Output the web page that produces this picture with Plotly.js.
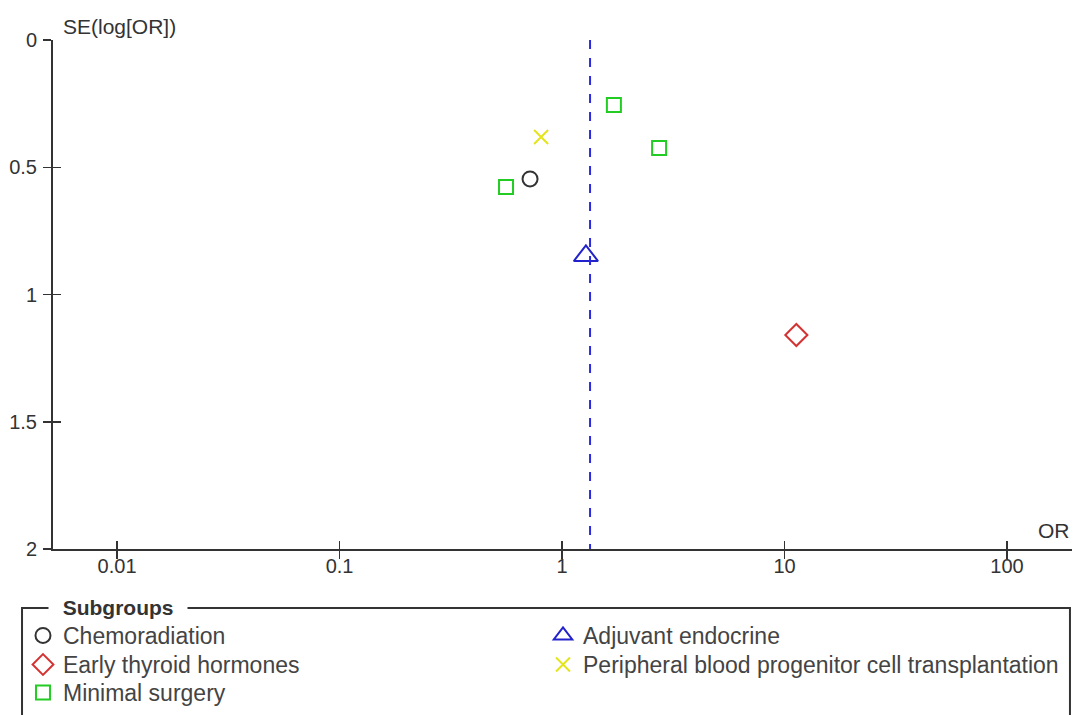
<!DOCTYPE html>
<html><head><meta charset="utf-8">
<script src="https://cdn.plot.ly/plotly-3.0.1.min.js"></script>
<style>html,body{margin:0;padding:0;background:#fff}#chart{width:1074px;height:715px}</style>
</head><body><div id="chart"></div>
<script>
// Data
const subgroupNames = ["Chemoradiation", "Adjuvant endocrine", "Early thyroid hormones", "Peripheral blood progenitor cell transplantation", "Minimal surgery"];
const chemoOR = [0.718];           const chemoSE = [0.546];
const endoOR = [1.28];             const endoSE = [0.848];
const thyroidOR = [11.3];          const thyroidSE = [1.159];
const pbpctOR = [0.805];           const pbpctSE = [0.381];
const surgeryOR = [1.71, 2.73, 0.56]; const surgerySE = [0.255, 0.424, 0.578];
const pooledOR = 1.336;
const seRange = [0, 2];
const xTickVals = [0.01, 0.1, 1, 10, 100];
const xTickText = ["0.01", "0.1", "1", "10", "100"];
const yTickVals = [0, 0.5, 1, 1.5, 2];
const yTickText = ["0", "0.5", "1", "1.5", "2"];

const FONT = "Liberation Sans, Arial, sans-serif";
const TXT = "#333";
const traces = [
  {x: chemoOR, y: chemoSE, name: subgroupNames[0], mode: "markers", type: "scatter", legend: "legend",
   marker: {symbol: "circle-open", size: 15, color: "#333333", line: {width: 2}}},
  {x: endoOR, y: endoSE, name: subgroupNames[1], mode: "markers", type: "scatter", legend: "legend2",
   marker: {symbol: "triangle-up-open", size: 21, color: "#2222cc", line: {width: 2}}},
  {x: thyroidOR, y: thyroidSE, name: subgroupNames[2], mode: "markers", type: "scatter", legend: "legend3",
   marker: {symbol: "diamond-open", size: 17, color: "#d43333", line: {width: 2}}},
  {x: pbpctOR, y: pbpctSE, name: subgroupNames[3], mode: "markers", type: "scatter", legend: "legend4",
   marker: {symbol: "x-thin-open", size: 14, color: "#e4e41c", line: {width: 2}}},
  {x: surgeryOR, y: surgerySE, name: subgroupNames[4], mode: "markers", type: "scatter", legend: "legend5",
   marker: {symbol: "square-open", size: 14, color: "#22cc22", line: {width: 2}}},
  {x: [pooledOR, pooledOR], y: seRange, mode: "lines", type: "scatter", showlegend: false, hoverinfo: "skip",
   line: {color: "#2a2ae0", width: 2, dash: "dash"}},
  // invisible trace on overlay axes (inner half of the crossing ticks)
  {x: [pooledOR], y: [seRange[0]], xaxis: "x2", yaxis: "y2", mode: "markers", type: "scatter", showlegend: false,
   hoverinfo: "skip", marker: {opacity: 0}}
];
const axisCommon = {showgrid: false, zeroline: false, showline: true, linecolor: "#333", linewidth: 2,
  ticks: "outside", ticklen: 8, tickwidth: 1.5, tickcolor: "#333", tickfont: {family: FONT, size: 20, color: TXT}};
function mkLegend(x, y) {
  return {orientation: "h", font: {family: FONT, size: 23, color: "#444"}, bgcolor: "rgba(0,0,0,0)",
    borderwidth: 0, xanchor: "left", yanchor: "top", itemwidth: 30,
    xref: "container", yref: "container", x: x, y: y};
}
const layout = {
  width: 1074, height: 715,
  margin: {l: 53, r: 2, t: 40, b: 166},
  paper_bgcolor: "#fff", plot_bgcolor: "#fff",
  font: {family: FONT, size: 20, color: TXT},
  xaxis: Object.assign({}, axisCommon, {type: "log", range: [-2.288, 2.292], tickvals: xTickVals, ticktext: xTickText, ticklabelstandoff: -10}),
  yaxis: Object.assign({}, axisCommon, {range: [2, 0], tickvals: yTickVals, ticktext: yTickText, ticklabelstandoff: 2}),
  xaxis2: {type: "log", range: [-2.288, 2.292], tickvals: xTickVals, overlaying: "x", anchor: "y", side: "bottom",
    showgrid: false, zeroline: false, showline: false, showticklabels: false,
    ticks: "inside", ticklen: 8, tickwidth: 1.5, tickcolor: "#333"},
  yaxis2: {range: [2, 0], tickvals: yTickVals, overlaying: "y", anchor: "x", side: "left",
    showgrid: false, zeroline: false, showline: false, showticklabels: false,
    ticks: "inside", ticklen: 8, tickwidth: 1.5, tickcolor: "#333"},
  showlegend: true,
  legend: mkLegend(0.0214, 0.1413),
  legend2: mkLegend(0.5056, 0.1413),
  legend3: mkLegend(0.0214, 0.1007),
  legend4: mkLegend(0.5056, 0.1007),
  legend5: mkLegend(0.0214, 0.0615),
  shapes: [
    {type: "rect", xref: "paper", yref: "paper", x0: -0.0304, x1: 0.998, y0: -0.1159, y1: -0.4,
     line: {color: "#333", width: 2}, fillcolor: "rgba(0,0,0,0)"}
  ],
  annotations: [
    {text: "SE(log[OR])", xref: "paper", yref: "paper", x: 0.008, y: 1.0, xanchor: "left", yanchor: "bottom",
     showarrow: false, font: {family: FONT, size: 21, color: TXT}},
    {text: "OR", xref: "paper", yref: "paper", x: 1.0, y: 0.01, xanchor: "right", yanchor: "bottom",
     showarrow: false, font: {family: FONT, size: 21, color: TXT}},
    {text: "\u00a0\u00a0<b>Subgroups</b>\u00a0\u00a0", xref: "paper", yref: "paper", x: -0.0045, y: -0.1159, xanchor: "left", yanchor: "middle",
     showarrow: false, bgcolor: "#fff", borderpad: 2, font: {family: FONT, size: 21, color: TXT}}
  ]
};
Plotly.newPlot("chart", traces, layout, {displayModeBar: false, staticPlot: true});
</script>
</body></html>
